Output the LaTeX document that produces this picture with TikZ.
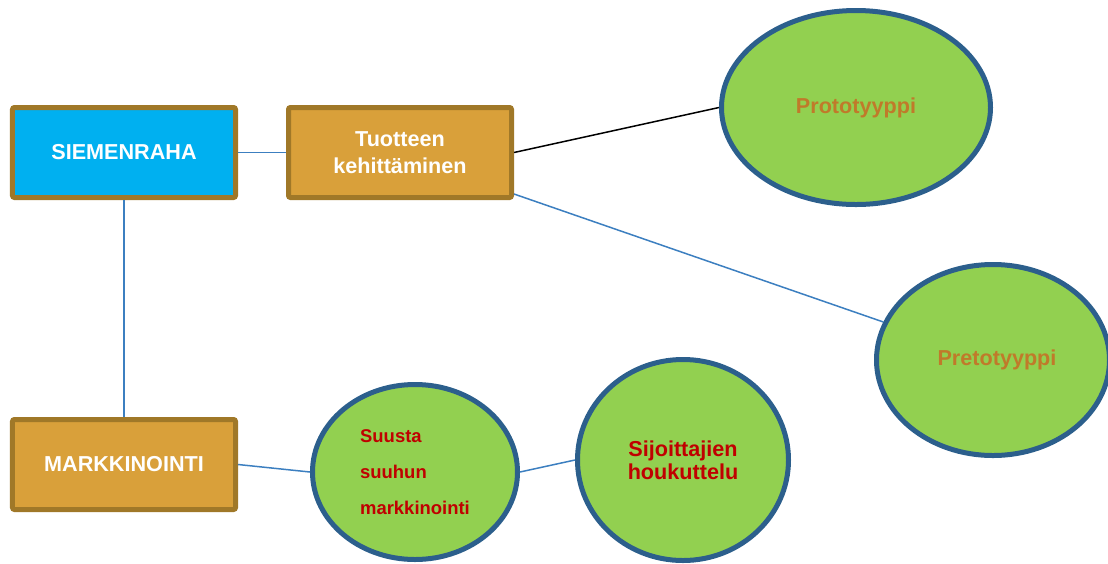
\documentclass[tikz,border=0pt]{standalone}
\usepackage{fontspec}
\setmainfont{Liberation Sans}
\usetikzlibrary{shapes.geometric}

\definecolor{seedblue}{HTML}{00B0F0}
\definecolor{boxorange}{HTML}{D9A03A}
\definecolor{boxframe}{HTML}{A07828}
\definecolor{bubblegreen}{HTML}{92D050}
\definecolor{bubbleframe}{HTML}{2C5F8C}
\definecolor{linkblue}{HTML}{3C7FC0}
\definecolor{textred}{HTML}{C00000}
\definecolor{textbrown}{HTML}{C07A2A}

\begin{document}
\begin{tikzpicture}[x=0.2mm, y=-0.2mm]
	\tikzset{
		box/.style={
			rectangle,
			draw=boxframe,
			line width=1mm,
			rounded corners=0.4mm,
			minimum width=44.6mm,
			minimum height=18mm,
			inner sep=0pt,
			text=white,
			align=center,
			font=\bfseries\fontsize{12.3}{15.4}\selectfont
		},
		bubble/.style={
			ellipse,
			draw=bubbleframe,
			fill=bubblegreen,
			line width=1mm,
			inner sep=0pt,
			align=center,
			font=\bfseries\fontsize{12.3}{13.1}\selectfont
		},
		link/.style={
			draw=linkblue,
			line width=0.3mm
		},
	}

	\useasboundingbox (0,0) rectangle (1108,563);

	\node[box, fill=seedblue] (siemen) at (124,152.5) {SIEMENRAHA};
	\node[box, fill=boxorange] (tk) at (400,152.5) {Tuotteen\\kehittäminen};
	\node[box, fill=boxorange] (markk) at (124,464.5) {MARKKINOINTI};

	\node[bubble, minimum width=53.8mm, minimum height=38.8mm, text=textbrown] (proto) at (856,107.5) {Prototyyppi};
	\node[bubble, minimum width=46.6mm, minimum height=38.2mm, text=textbrown] (preto) at (993,360) {\hspace*{1.6mm}Pretotyyppi};
	\node[bubble, minimum width=41mm, minimum height=35mm, text=textred, align=left,
		font=\bfseries\fontsize{10.5}{20.5}\selectfont] (suusta) at (415,472) {Suusta\\suuhun\\markkinointi};
	\node[bubble, minimum width=42.2mm, minimum height=40.2mm, text=textred] (sijo) at (683,460) {Sijoittajien\\houkuttelu};

	\draw[link] (siemen.east) -- (tk.west);
	\draw[link] (siemen.south) -- (markk.north);
	\draw[line width=0.3mm, black] (tk.east) -- (proto.west);
	\draw[link] (tk.-20) -- (preto);
	\draw[link] (markk.east) -- (suusta.west);
	\draw[link] (suusta.east) -- (sijo.west);
\end{tikzpicture}
\end{document}
